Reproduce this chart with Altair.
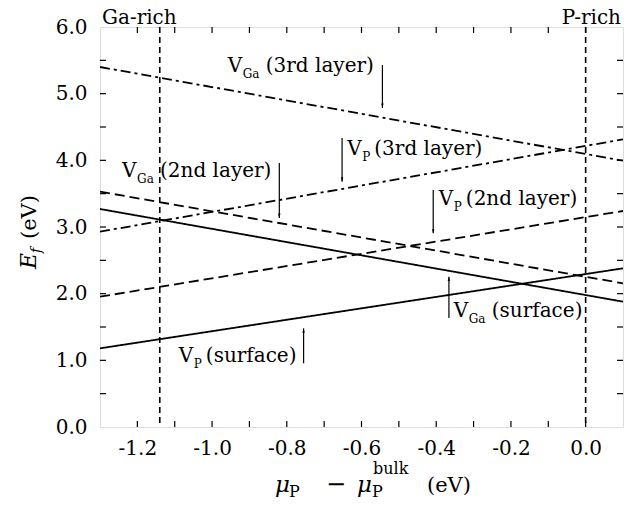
import altair as alt
import pandas as pd

FONT = "DejaVu Serif"

# ---------------- data ----------------
x_ends = [-1.3, 0.1]
series = ["VP surface", "VGa surface", "VP 2nd", "VGa 2nd", "VP 3rd", "VGa 3rd"]
styles = ["solid", "solid", "dash", "dash", "dashdot", "dashdot"]
y_left = [1.18, 3.27, 1.955, 3.53, 2.93, 5.40]
y_right = [2.38, 1.88, 3.24, 2.155, 4.315, 3.995]

limit_x = [-1.14, 0.0]

x_labels = [-1.2, -1.0, -0.8, -0.6, -0.4, -0.2, 0.0]
y_labels = [0, 1, 2, 3, 4, 5, 6]
x_minor = [-1.2, -1.1, -1.0, -0.9, -0.8, -0.7, -0.6, -0.5, -0.4, -0.3, -0.2, -0.1, 0.0]
y_minor = [0.5, 1.0, 1.5, 2.0, 2.5, 3.0, 3.5, 4.0, 4.5, 5.0, 5.5]

# annotations: label anchor (data coords), subscript, rest
ann_main = ["V", "V", "V", "V", "V", "V"]
ann_sub = ["Ga", "P", "Ga", "P", "Ga", "P"]
ann_rest = ["(3rd layer)", "(3rd layer)", "(2nd layer)", "(2nd layer)", "(surface)", "(surface)"]
ann_x = [-0.958, -0.638, -1.241, -0.393, -0.353, -1.089]
ann_y = [5.33, 4.08, 3.745, 3.33, 1.645, 0.98]

# arrows
arr_x = [-0.544, -0.652, -0.82, -0.408, -0.366, -0.755]
arr_tail = [5.43, 4.335, 3.96, 3.555, 1.635, 0.955]
arr_tip = [4.785, 3.68, 3.135, 2.905, 2.255, 1.48]
arr_dir = ["down", "down", "down", "down", "up", "up"]

# ---------------- tables ----------------
rows = []
for s, st, a, b in zip(series, styles, y_left, y_right):
    rows.append({"series": s, "style": st, "x": x_ends[0], "y": a})
    rows.append({"series": s, "style": st, "x": x_ends[1], "y": b})
lines_df = pd.DataFrame(rows)
arr_df = pd.DataFrame({"x": arr_x, "tail": arr_tail, "tip": arr_tip, "dir": arr_dir})

W, H = 523, 400
xs = alt.Scale(domain=[-1.3, 0.1], nice=False, zero=False)
ys = alt.Scale(domain=[0, 6], nice=False, zero=False)

lab_expr = "replace(format(datum.value, '.1f'), '\u2212', '-')"
xaxis = alt.Axis(values=x_labels, labelExpr=lab_expr, ticks=False, domain=False, grid=False,
                 title=None, labelFont=FONT, labelFontSize=20, labelColor="black",
                 labelPadding=11, labelFlush=False, labelOverlap=False)
yaxis = alt.Axis(values=y_labels, labelExpr=lab_expr, ticks=False, domain=False, grid=False,
                 title=None, labelFont=FONT, labelFontSize=20, labelColor="black",
                 labelPadding=13, labelFlush=False, labelOverlap=False)

def X(f="x"):
    return alt.X(f"{f}:Q", scale=xs, axis=xaxis)

def Y(f="y"):
    return alt.Y(f"{f}:Q", scale=ys, axis=yaxis)

layers = []

base_lines = alt.Chart(lines_df)
dash_map = {"solid": [1, 0], "dash": [10, 5], "dashdot": [10, 4, 3, 4]}
for st in ["solid", "dash", "dashdot"]:
    m = base_lines.transform_filter(alt.datum.style == st).mark_line(
        color="black", strokeWidth=1.8, strokeDash=dash_map[st], clip=True
    ).encode(x=X(), y=Y(), detail="series:N")
    layers.append(m)

# vertical limits
layers.append(alt.Chart(pd.DataFrame({"x": limit_x})).mark_rule(
    color="black", strokeWidth=1.6, strokeDash=[6, 4]).encode(
    x=X(), y=alt.value(0), y2=alt.value(H)))

# ticks (inward)
TL = 6
tk = dict(color="black", strokeWidth=1.2)
layers.append(alt.Chart(pd.DataFrame({"x": x_minor})).mark_rule(**tk).encode(
    x=X(), y=alt.value(H), y2=alt.value(H - TL)))
layers.append(alt.Chart(pd.DataFrame({"x": x_minor})).mark_rule(**tk).encode(
    x=X(), y=alt.value(0), y2=alt.value(TL)))
layers.append(alt.Chart(pd.DataFrame({"y": y_minor})).mark_rule(**tk).encode(
    y=Y(), x=alt.value(0), x2=alt.value(TL)))
layers.append(alt.Chart(pd.DataFrame({"y": y_minor})).mark_rule(**tk).encode(
    y=Y(), x=alt.value(W), x2=alt.value(W - TL)))

# arrows
layers.append(alt.Chart(arr_df).mark_rule(color="black", strokeWidth=1.2).encode(
    x=X(), y=Y("tail"), y2="tip:Q"))
down_path = "M0,0L-0.6,-2.2L0.6,-2.2Z"
up_path = "M0,0L-0.6,2.2L0.6,2.2Z"
for d, p in [("down", down_path), ("up", up_path)]:
    layers.append(alt.Chart(arr_df).transform_filter(alt.datum.dir == d).mark_point(
        shape=p, filled=True, size=16, color="black", opacity=1, strokeWidth=0).encode(
        x=X(), y=Y("tip")))

# annotation labels
for mtxt, sub, rest, ax, ay in zip(ann_main, ann_sub, ann_rest, ann_x, ann_y):
    df = pd.DataFrame({"x": [ax], "y": [ay], "a": [mtxt], "b": [sub], "c": [rest]})
    c = alt.Chart(df)
    sub_dx = 15
    rest_dx = 38 if sub == "Ga" else 27
    layers.append(c.mark_text(align="left", baseline="alphabetic", font=FONT, fontSize=20,
                              color="black").encode(x=X(), y=Y(), text="a:N"))
    layers.append(c.mark_text(align="left", baseline="alphabetic", font=FONT, fontSize=12,
                              dx=sub_dx, dy=6, color="black").encode(x=X(), y=Y(), text="b:N"))
    layers.append(c.mark_text(align="left", baseline="alphabetic", font=FONT, fontSize=20,
                              dx=rest_dx, color="black").encode(x=X(), y=Y(), text="c:N"))

# corner labels and axis titles (composed text)
title_parts = [
    # text, x, y, size, italic, angle, align
    ("Ga-rich", 2, -3, 20, False, 0, "left"),
    ("P-rich", W - 2, -3, 20, False, 0, "right"),
    ("\u03bc", 175, 465, 23, True, 0, "left"),
    ("P", 189, 470, 16, False, 0, "left"),
    ("\u2212", 236, 465, 24, False, 0, "center"),
    ("\u03bc", 257, 465, 23, True, 0, "left"),
    ("P", 272, 470, 16, False, 0, "left"),
    ("bulk", 273, 447, 16, False, 0, "left"),
    ("(eV)", 327, 465, 21, False, 0, "left"),
    ("E", -64, 242, 22, True, 270, "left"),
    ("f", -59, 226, 14, True, 270, "left"),
    ("(eV)", -64, 212, 21, False, 270, "left"),
]
for txt, px, py, fs, it, ang, al in title_parts:
    kw = dict(align=al, baseline="alphabetic", font=FONT, fontSize=fs, color="black")
    if it:
        kw["fontStyle"] = "italic"
    if ang:
        kw["angle"] = ang
    layers.append(alt.Chart(pd.DataFrame({"t": [txt]})).mark_text(**kw).encode(
        x=alt.value(px), y=alt.value(py), text="t:N"))

chart = alt.layer(*layers).properties(
    width=W, height=H,
    autosize=alt.AutoSizeParams(type="none"),
    padding={"left": 92, "top": 19, "right": 10, "bottom": 75},
).configure_view(stroke="black", strokeWidth=2).configure(background="white")

chart.save("out.html", embed_options={"renderer": "svg", "actions": False})
